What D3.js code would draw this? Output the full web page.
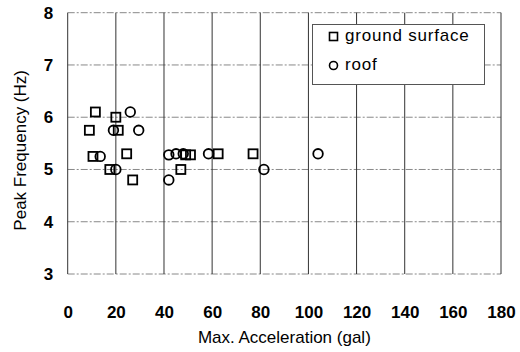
<!DOCTYPE html>
<html>
<head>
<meta charset="utf-8">
<script src="https://cdn.jsdelivr.net/npm/d3@7"></script>
<style>
  body { margin: 0; background: #fff; }
  svg { display: block; font-family: "Liberation Sans", Arial, sans-serif; }
</style>
</head>
<body>
<script>
// ground surface points [max acceleration (gal), peak frequency (Hz)]
const groundAcc  = [9, 10.5, 11.5, 17.5, 20, 21, 24.5, 27, 47, 49, 51, 62.5, 77];
const groundFreq = [5.75, 5.25, 6.1, 5.0, 6.0, 5.75, 5.3, 4.8, 5.0, 5.28, 5.28, 5.3, 5.3];
// roof points
const roofAcc  = [13.5, 19, 20, 26, 29.5, 42, 42, 45, 48, 58.5, 81.5, 104];
const roofFreq = [5.25, 5.75, 5.0, 6.1, 5.75, 4.8, 5.28, 5.3, 5.3, 5.3, 5.0, 5.3];

const xTicks = [0, 20, 40, 60, 80, 100, 120, 140, 160, 180];
const yTicks = [3, 4, 5, 6, 7, 8];
const seriesNames = ['ground surface', 'roof'];

const width = 520, height = 352;
const x = d3.scaleLinear().domain([0, 180]).range([67.7, 501]);
const y = d3.scaleLinear().domain([3, 8]).range([274, 12.7]);

const svg = d3.select('body').append('svg')
  .attr('width', width)
  .attr('height', height);

// horizontal grid (dashed, grey)
svg.append('g')
  .selectAll('line')
  .data(yTicks)
  .join('line')
  .attr('x1', x(0)).attr('x2', x(180))
  .attr('y1', (d) => y(d)).attr('y2', (d) => y(d))
  .attr('stroke', '#888')
  .attr('stroke-width', 1)
  .attr('stroke-dasharray', '7,2,2,2');

// vertical grid (solid, dark)
svg.append('g')
  .selectAll('line')
  .data(xTicks)
  .join('line')
  .attr('x1', (d) => x(d)).attr('x2', (d) => x(d))
  .attr('y1', y(8)).attr('y2', y(3))
  .attr('stroke', '#333')
  .attr('stroke-width', 1);

// axes, labels only
const xAxis = svg.append('g')
  .attr('transform', `translate(0,${y(3)})`)
  .call(d3.axisBottom(x).tickValues(xTicks).tickFormat(d3.format('d')).tickSize(0).tickPadding(32));
const yAxis = svg.append('g')
  .attr('transform', `translate(${x(0)},0)`)
  .call(d3.axisLeft(y).tickValues(yTicks).tickFormat(d3.format('d')).tickSize(0).tickPadding(14.5));
[xAxis, yAxis].forEach((a) => {
  a.select('.domain').remove();
  a.selectAll('text')
    .attr('fill', '#000')
    .style('font-size', '17px')
    .style('font-weight', 'bold')
    .style('font-family', '"Liberation Sans", Arial, sans-serif');
});

// axis titles
svg.append('text')
  .attr('x', (x(0) + x(180)) / 2)
  .attr('y', 343)
  .attr('text-anchor', 'middle')
  .attr('fill', '#000')
  .style('font-size', '17px')
  .text('Max. Acceleration (gal)');

svg.append('text')
  .attr('transform', `translate(26,${(y(3) + y(8)) / 2 + 7}) rotate(-90)`)
  .attr('text-anchor', 'middle')
  .attr('fill', '#000')
  .style('font-size', '17px')
  .text('Peak Frequency (Hz)');

// markers
const ground = groundAcc.map((a, i) => ({ a, f: groundFreq[i] }));
const roof = roofAcc.map((a, i) => ({ a, f: roofFreq[i] }));
const sq = 9;

svg.append('g')
  .selectAll('rect')
  .data(ground)
  .join('rect')
  .attr('x', (d) => x(d.a) - sq / 2)
  .attr('y', (d) => y(d.f) - sq / 2)
  .attr('width', sq)
  .attr('height', sq)
  .attr('fill', 'none')
  .attr('stroke', '#000')
  .attr('stroke-width', 1.8);

svg.append('g')
  .selectAll('circle')
  .data(roof)
  .join('circle')
  .attr('cx', (d) => x(d.a))
  .attr('cy', (d) => y(d.f))
  .attr('r', 4.8)
  .attr('fill', 'none')
  .attr('stroke', '#000')
  .attr('stroke-width', 1.8);

// legend
const lg = svg.append('g');
lg.append('rect')
  .attr('x', 312.5).attr('y', 24.5)
  .attr('width', 172).attr('height', 60)
  .attr('fill', '#fff')
  .attr('stroke', '#555')
  .attr('stroke-width', 1);
lg.append('rect')
  .attr('x', 329.5).attr('y', 32.5)
  .attr('width', 8).attr('height', 8)
  .attr('fill', 'none').attr('stroke', '#000').attr('stroke-width', 1.6);
lg.append('circle')
  .attr('cx', 333.5).attr('cy', 65.5).attr('r', 4)
  .attr('fill', 'none').attr('stroke', '#000').attr('stroke-width', 1.6);
lg.selectAll('text.lab')
  .data(seriesNames)
  .join('text')
  .attr('class', 'lab')
  .attr('x', 345)
  .attr('y', (d, i) => 41 + i * 28.5)
  .attr('fill', '#000')
  .style('font-size', '17px')
  .style('letter-spacing', '0.8px')
  .text((d) => d);
</script>
</body>
</html>
